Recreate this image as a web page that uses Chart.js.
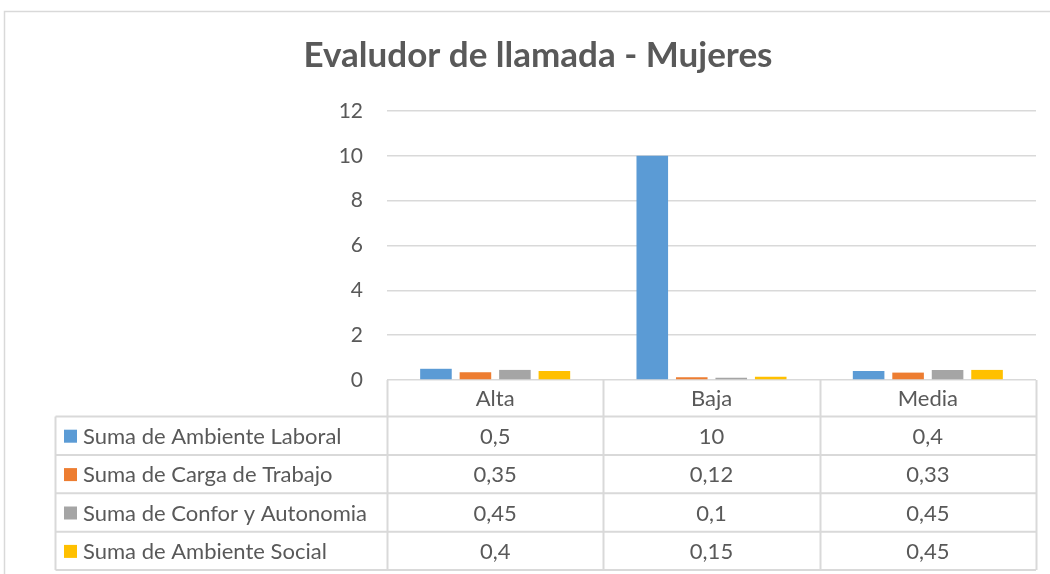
<!DOCTYPE html>
<html>
<head>
<meta charset="utf-8">
<script src="https://cdn.jsdelivr.net/npm/chart.js@4"></script>
<style>
  body { margin: 0; background: #fff; }
  #wrap { width: 1050px; height: 574px; }
</style>
</head>
<body>
<div id="wrap"><canvas id="myChart"></canvas></div>
<script>
const categories = ['Alta', 'Baja', 'Media'];
const ambienteLaboral = [0.5, 10, 0.4];
const cargaTrabajo = [0.35, 0.12, 0.33];
const conforAutonomia = [0.45, 0.1, 0.45];
const ambienteSocial = [0.4, 0.15, 0.45];
const yTicks = [0, 2, 4, 6, 8, 10, 12];

const textColor = '#595959';
const lineColor = '#d9d9d9';
const font = 'Lato';

const data = {
    labels: categories,
    datasets: [{
        label: 'Suma de Ambiente Laboral',
        backgroundColor: '#5b9bd5',
        data: ambienteLaboral
    },
    {
        label: 'Suma de Carga de Trabajo',
        backgroundColor: '#ed7d31',
        data: cargaTrabajo
    },
    {
        label: 'Suma de Confor y Autonomia',
        backgroundColor: '#a5a5a5',
        data: conforAutonomia
    },
    {
        label: 'Suma de Ambiente Social',
        backgroundColor: '#ffc000',
        data: ambienteSocial
    }]
};

// draws the frame and the data table under the plot
const dataTable = {
    id: 'dataTable',
    beforeDraw(chart) {
        const ctx = chart.ctx;
        ctx.save();
        ctx.strokeStyle = lineColor;
        ctx.lineWidth = 1.5;
        ctx.beginPath();
        ctx.moveTo(4.5, 574);
        ctx.lineTo(4.5, 11.5);
        ctx.lineTo(1050, 11.5);
        ctx.stroke();
        ctx.restore();
    },
    afterDraw(chart) {
        const ctx = chart.ctx;
        const x = chart.scales.x;
        const area = chart.chartArea;
        const half = (x.getPixelForValue(1) - x.getPixelForValue(0)) / 2;
        const top = area.bottom;
        const headerH = 36.5;
        const rowH = 38.4;
        const legendLeft = 55.5;
        const nRows = chart.data.datasets.length;
        const bottom = top + headerH + rowH * nRows;

        ctx.save();
        ctx.strokeStyle = lineColor;
        ctx.lineWidth = 2;
        ctx.beginPath();
        // vertical lines at the category edges
        for (let i = 0; i <= categories.length; i++) {
            const px = Math.round(x.getPixelForValue(0) - half + i * half * 2) + 0.5;
            ctx.moveTo(px, top);
            ctx.lineTo(px, bottom);
        }
        ctx.moveTo(legendLeft, top + headerH);
        ctx.lineTo(legendLeft, bottom);
        for (let r = 0; r <= nRows; r++) {
            const py = top + headerH + r * rowH;
            ctx.moveTo(legendLeft, py);
            ctx.lineTo(area.right, py);
        }
        ctx.stroke();

        ctx.fillStyle = textColor;
        ctx.font = '22px "' + font + '"';
        ctx.textBaseline = 'middle';
        ctx.textAlign = 'center';
        categories.forEach((c, i) => {
            ctx.fillText(c, x.getPixelForValue(i), top + headerH / 2 + 1);
        });
        chart.data.datasets.forEach((ds, r) => {
            const cy = top + headerH + r * rowH + rowH / 2 + 1;
            ctx.fillStyle = ds.backgroundColor;
            ctx.fillRect(64, cy - 7, 13, 13);
            ctx.fillStyle = textColor;
            ctx.textAlign = 'left';
            ctx.fillText(ds.label, 83, cy);
            ctx.textAlign = 'center';
            ds.data.forEach((v, i) => {
                ctx.fillText(String(v).replace('.', ','), x.getPixelForValue(i), cy);
            });
        });
        ctx.restore();
    }
};

const config = {
    type: 'bar',
    data,
    options: {
        responsive: true,
        maintainAspectRatio: false,
        animation: false,
        categoryPercentage: 0.73,
        barPercentage: 0.8,
        layout: { padding: { left: 40, right: 14, top: 0, bottom: 194 } },
        plugins: {
            legend: { display: false },
            tooltip: { enabled: false },
            title: {
                display: true,
                text: 'Evaludor de llamada - Mujeres',
                color: textColor,
                font: { family: font, size: 35, weight: 'bold' },
                padding: { top: 35, bottom: 34 }
            }
        },
        scales: {
            x: {
                ticks: { display: false },
                grid: { display: false, drawTicks: false },
                border: { display: false }
            },
            y: {
                min: 0,
                max: 12,
                afterFit: s => { s.width = 347; },
                afterBuildTicks: s => { s.ticks = yTicks.map(v => ({ value: v })); },
                ticks: {
                    color: textColor,
                    padding: 24,
                    font: { family: font, size: 21 }
                },
                grid: { color: lineColor, lineWidth: 1.5, drawTicks: false },
                border: { display: false }
            }
        }
    },
    plugins: [dataTable]
};

const myChart = new Chart(
    document.getElementById('myChart'),
    config
);
</script>
</body>
</html>
